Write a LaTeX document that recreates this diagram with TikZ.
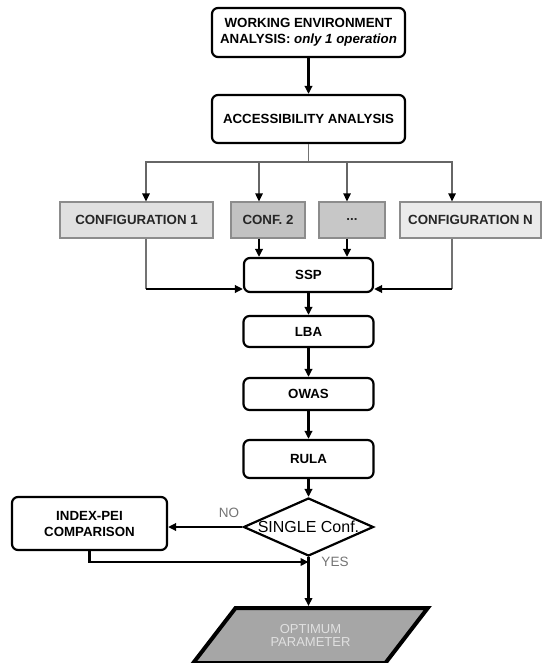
\documentclass[tikz,border=0pt]{standalone}
\usepackage{fontspec}
\setmainfont{Liberation Sans}
\usetikzlibrary{arrows.meta,shapes.geometric}
\begin{document}
\begin{tikzpicture}[x=1pt,y=1pt,
	box/.style={draw=black,line width=2.2pt,rounded corners=6pt,fill=white,inner sep=0pt,align=center,font=\fontsize{13.3}{16}\selectfont\bfseries},
	confbox/.style={draw=black!45,line width=1.3pt,inner sep=0pt,minimum height=36pt,font=\fontsize{13.3}{16}\selectfont\bfseries,text=black!85},
	arr/.style={draw=black,line width=2.2pt,-{Triangle[length=8pt,width=7.5pt]}},
	garr/.style={draw=black!60,line width=1.4pt,-{Triangle[length=8pt,width=7.5pt,color=black]}},
	gline/.style={draw=black!55,line width=1.3pt},
	lbl/.style={text=black!55,font=\fontsize{13.5}{16}\selectfont}]
	\useasboundingbox (0,0) rectangle (547,-663);
	\node[box,minimum width=193pt,minimum height=49pt] (env) at (308.5,-32.5) {WORKING ENVIRONMENT\\ANALYSIS: \textit{only 1 operation}};
	\node[box,minimum width=193pt,minimum height=48pt] (acc) at (308.5,-119) {ACCESSIBILITY ANALYSIS};
	\node[confbox,fill=black!12,minimum width=153pt] (conf1) at (136.5,-220) {CONFIGURATION 1};
	\node[confbox,fill=black!24,minimum width=74pt] (conf2) at (268,-220) {CONF. 2};
	\node[confbox,fill=black!22,minimum width=66pt] (confdots) at (352,-220) {...};
	\node[confbox,fill=black!8,minimum width=141pt] (confN) at (470.5,-220) {CONFIGURATION N};
	\node[box,minimum width=129pt,minimum height=34pt] (ssp) at (308.5,-275) {SSP};
	\node[box,minimum width=130pt,minimum height=31pt] (lba) at (308.5,-331.5) {LBA};
	\node[box,minimum width=130pt,minimum height=32pt] (owas) at (308.5,-394) {OWAS};
	\node[box,minimum width=130pt,minimum height=38pt] (rula) at (308.5,-459) {RULA};
	\node[diamond,draw=black,line width=2.2pt,fill=white,minimum width=130pt,minimum height=58pt,inner sep=0pt,font=\fontsize{16}{18}\selectfont] (single) at (308.5,-527) {\makebox[0pt]{SINGLE Conf.}};
	\node[box,minimum width=155pt,minimum height=53pt] (pei) at (89.5,-523.5) {INDEX-PEI\\COMPARISON};
	\node[trapezium,trapezium left angle=45,trapezium right angle=135,trapezium stretches=true,draw=black,line width=4pt,fill=black!35,minimum width=235pt,minimum height=55pt,inner sep=0pt,align=center,text=black!12,font=\fontsize{13}{13.5}\selectfont] (opt) at (310.5,-635.5) {OPTIMUM\\PARAMETER};
	\coordinate (split) at (308.5,-162);
	\coordinate (turn1) at (146,-289);
	\coordinate (turnN) at (452,-289);
	\coordinate (merge) at (308.5,-562);
	\draw[arr] (env) -- (acc);
	\draw[gline] (acc) -- (split);
	\draw[garr] (split) -| ([xshift=9.5pt]conf1.north);
	\draw[garr] (split) -| ([xshift=-9pt]conf2.north);
	\draw[garr] (split) -| ([xshift=-5pt]confdots.north);
	\draw[garr] (split) -| ([xshift=-18.5pt]confN.north);
	\draw[arr] ([xshift=-9pt]conf2.south) -- ([xshift=-9pt]conf2.south |- ssp.north);
	\draw[arr] ([xshift=-5pt]confdots.south) -- ([xshift=-5pt]confdots.south |- ssp.north);
	\draw[gline] ([xshift=9.5pt]conf1.south) -- (turn1);
	\draw[arr] (turn1) -- (turn1 -| ssp.west);
	\draw[gline] ([xshift=-18.5pt]confN.south) -- (turnN);
	\draw[arr] (turnN) -- (turnN -| ssp.east);
	\draw[arr] (ssp) -- (lba);
	\draw[arr] (lba) -- (owas);
	\draw[arr] (owas) -- (rula);
	\draw[arr] (rula) -- (single);
	\draw[arr] (single.west) -- (single.west -| pei.east);
	\draw[arr] (single.south) -- (single.south |- opt.north);
	\draw[arr] (pei.south) |- (merge);
	\node[lbl] (no) at (229,-513) {NO};
	\node[lbl] (yes) at (335,-562) {YES};
\end{tikzpicture}
\end{document}
